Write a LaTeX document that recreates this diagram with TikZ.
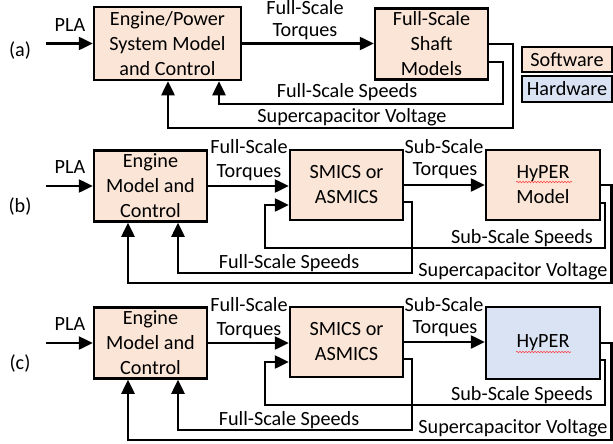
\documentclass[tikz,border=0pt]{standalone}
\usepackage{fontspec}
\setmainfont{Carlito}
\usepackage{tikz}
\usetikzlibrary{positioning,arrows.meta,decorations.pathmorphing}
\usepackage{xcolor}
\definecolor{swfill}{RGB}{251,229,214}
\definecolor{hwfill}{RGB}{218,227,243}

\begin{document}
\begin{tikzpicture}[
  x=1pt, y=-1pt,
  every node/.style={font=\fontsize{20.2}{25}\selectfont},
  blk/.style={draw, line width=2.5pt, fill=swfill, inner sep=0pt, align=center,
    minimum width=113pt, minimum height=71pt},
  hwblk/.style={blk, fill=hwfill},
  key/.style={draw, line width=2.5pt, inner sep=0pt, minimum width=90pt, minimum height=25pt},
  lbl/.style={inner sep=0pt, anchor=base},
  arr/.style={line width=2.5pt, -{Triangle[length=14pt,width=13pt]}},
  spell/.style={red!75, line width=0.6pt, decorate,
    decoration={snake, amplitude=0.7pt, segment length=3pt}}]

\useasboundingbox (0,0) rectangle (613,444);

\node[blk, minimum width=147pt, minimum height=73pt] (eng-a) at (167.5,43.5) {Engine/Power\\System Model\\and Control};
\node[blk] (shaft-a) at (431.5,44) {Full-Scale\\Shaft\\Models};
\node[key, fill=swfill] (sw) at (567,59.5) {Software};
\node[key, fill=hwfill, minimum height=26pt] (hw) at (567,89) {Hardware};
\coordinate (pla-a) at (46,43.5);

\node[lbl] (tag-a) at (20,57) {(a)};
\node[lbl] (plal-a) at (70,32) {PLA};
\node[lbl] (fs-a) at (305,14.5) {Full-Scale};
\node[lbl] (tq-a) at (305,37) {Torques};
\node[lbl] (spd-a) at (347,97) {Full-Scale Speeds};
\node[lbl] (volt-a) at (352,122) {Supercapacitor Voltage};

\draw[arr] (pla-a) -- (eng-a.west);
\draw[arr] (eng-a.east) -- (eng-a.east -| shaft-a.west);
\draw[arr] (shaft-a.east |- 0,62) -| (503,104) -| (eng-a.south -| 219,0);
\draw[arr] (shaft-a.east) -| (513,128) -| (eng-a.south -| 168,0);

\node[blk] (eng-b) at (150.5,186) {Engine\\Model and\\Control};
\node[blk, minimum height=70pt] (smics-b) at (346.5,185) {SMICS or\\ASMICS};
\node[blk, minimum width=114pt, minimum height=70pt] (hyper-b) at (543,185) {HyPER\\Model};
\coordinate (pla-b) at (46,186);

\node[lbl] (tag-b) at (20,212) {(b)};
\node[lbl] (plal-b) at (70,173) {PLA};
\node[lbl] (fs-b) at (249,153) {Full-Scale};
\node[lbl] (tq-b) at (249,177) {Torques};
\node[lbl] (ss-b) at (444,153) {Sub-Scale};
\node[lbl] (stq-b) at (445,175) {Torques};
\node[lbl] (sspd-b) at (522,243) {Sub-Scale Speeds};
\node[lbl] (spd-b) at (289,268) {Full-Scale Speeds};
\node[lbl] (volt-b) at (513,276.5) {Supercapacitor Voltage};
\draw[spell] (516,182) -- (572,182);

\draw[arr] (pla-b) -- (eng-b.west);
\draw[arr] (eng-b.east) -- (eng-b.east -| smics-b.west);
\draw[arr] (smics-b.east) -- (smics-b.east -| hyper-b.west);
\draw[arr] (hyper-b.east |- 0,203) -| (605,248) -| (265,205) -- (smics-b.west |- 0,205);
\draw[arr] (smics-b.east |- 0,202) -| (412,273) -| (eng-b.south -| 178,0);
\draw[arr] (hyper-b.east) -| (611.5,283) -| (eng-b.south -| 128,0);

\node[blk] (eng-c) at (150.5,343) {Engine\\Model and\\Control};
\node[blk, minimum height=70pt] (smics-c) at (346.5,342) {SMICS or\\ASMICS};
\node[hwblk, minimum width=114pt, minimum height=72pt] (hyper-c) at (543,343) {HyPER};
\coordinate (pla-c) at (46,343);

\node[lbl] (tag-c) at (20,369) {(c)};
\node[lbl] (plal-c) at (70,330) {PLA};
\node[lbl] (fs-c) at (249,311) {Full-Scale};
\node[lbl] (tq-c) at (249,335) {Torques};
\node[lbl] (ss-c) at (444,311) {Sub-Scale};
\node[lbl] (stq-c) at (445,333) {Torques};
\node[lbl] (sspd-c) at (522,400) {Sub-Scale Speeds};
\node[lbl] (spd-c) at (289,425) {Full-Scale Speeds};
\node[lbl] (volt-c) at (513,433.5) {Supercapacitor Voltage};
\draw[spell] (516,352) -- (571,352);

\draw[arr] (pla-c) -- (eng-c.west);
\draw[arr] (eng-c.east) -- (eng-c.east -| smics-c.west);
\draw[arr] (smics-c.east) -- (smics-c.east -| hyper-c.west);
\draw[arr] (hyper-c.east |- 0,360) -| (605,405) -| (265,362) -- (smics-c.west |- 0,362);
\draw[arr] (smics-c.east |- 0,359) -| (412,430) -| (eng-c.south -| 178,0);
\draw[arr] (hyper-c.east) -| (611.5,440) -| (eng-c.south -| 128,0);

\end{tikzpicture}
\end{document}
